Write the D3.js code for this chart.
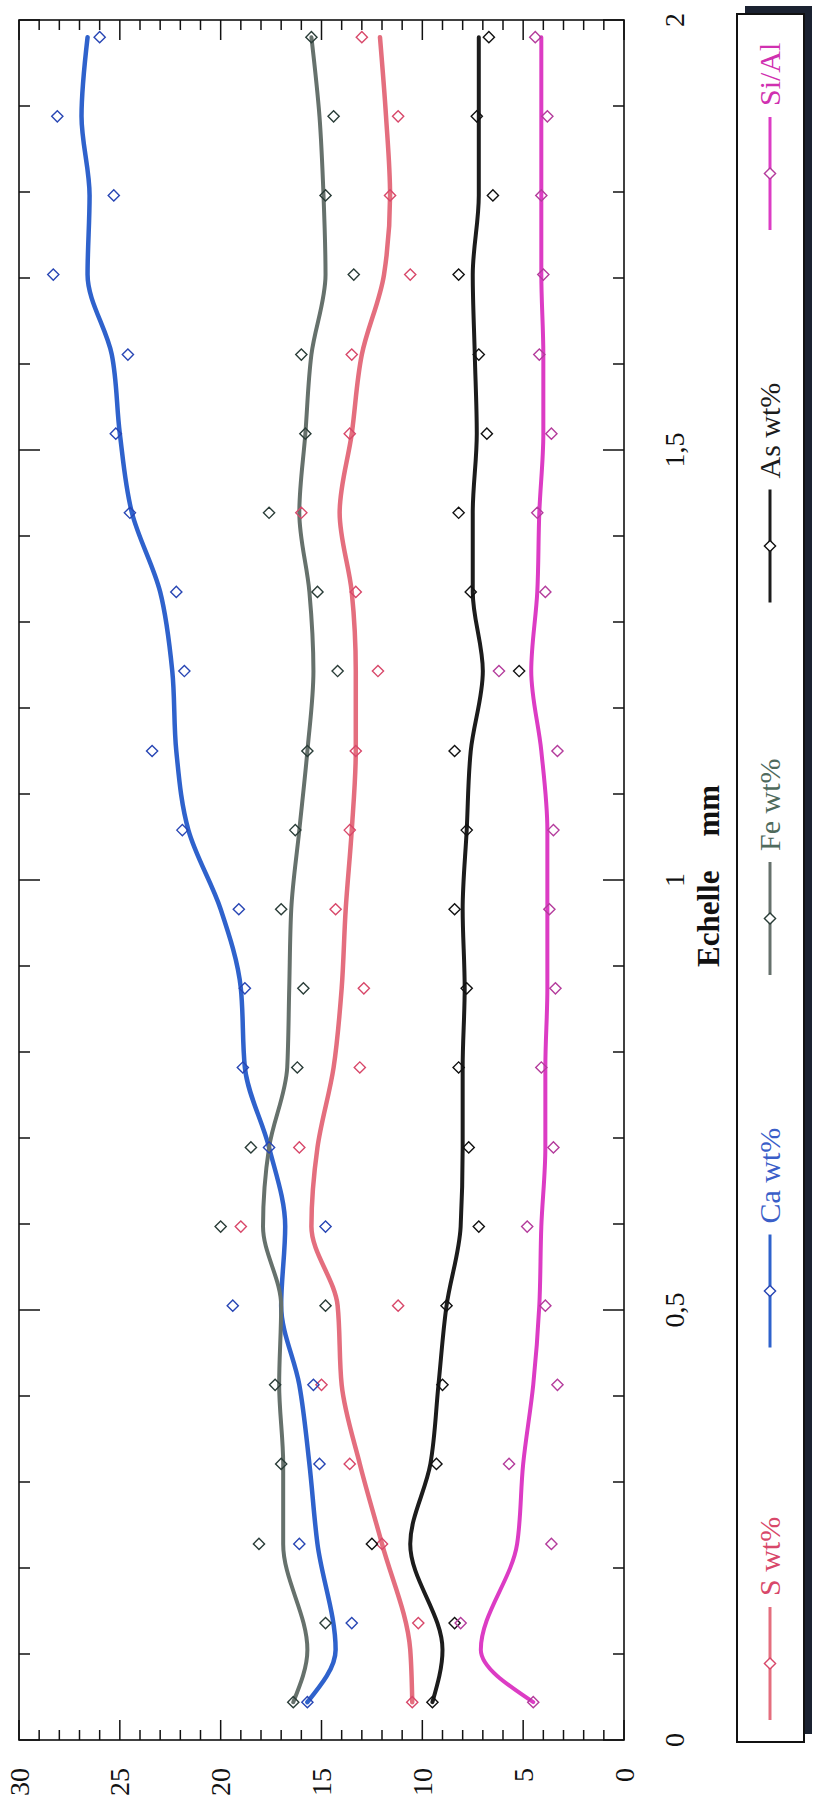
<!DOCTYPE html>
<html><head><meta charset="utf-8">
<script src="https://cdn.jsdelivr.net/npm/d3@7"></script>
<style>body{margin:0;background:#fff}svg{display:block}</style>
</head><body>
<svg id="c" width="821" height="1814"></svg>
<script>
// ---- data ----
const seriesNames = ["S wt%", "Ca wt%", "Fe wt%", "As wt%", "Si/Al"];
const pointMm = [0.044,0.136,0.228,0.321,0.413,0.505,0.597,0.689,0.782,0.874,0.966,1.058,1.150,1.243,1.335,1.427,1.519,1.611,1.704,1.796,1.888,1.980];
const lineMm  = [0.044,0.105,0.228,0.321,0.413,0.505,0.597,0.689,0.782,0.874,0.966,1.058,1.150,1.243,1.335,1.427,1.519,1.611,1.704,1.796,1.888,1.980];

const sPoints  = [10.5,10.2,12.0,13.6,15.0,11.2,19.0,16.1,13.1,12.9,14.3,13.6,13.3,12.2,13.3,16.0,13.6,13.5,10.6,11.6,11.2,13.0];
const caPoints = [15.7,13.5,16.1,15.1,15.4,19.4,14.8,17.6,18.9,18.8,19.1,21.9,23.4,21.8,22.2,24.5,25.2,24.6,28.3,25.3,28.1,26.0];
const fePoints = [16.4,14.8,18.1,17.0,17.3,14.8,20.0,18.5,16.2,15.9,17.0,16.3,15.7,14.2,15.2,17.6,15.8,16.0,13.4,14.8,14.4,15.5];
const asPoints = [9.5,8.4,12.5,9.3,9.0,8.8,7.2,7.7,8.2,7.8,8.4,7.8,8.4,5.2,7.6,8.2,6.8,7.2,8.2,6.5,7.3,6.7];
const siPoints = [4.5,8.1,3.6,5.7,3.3,3.9,4.8,3.5,4.1,3.4,3.7,3.5,3.3,6.2,3.9,4.3,3.6,4.2,4.0,4.1,3.8,4.4];

const sLine  = [10.5,10.6,12.0,13.1,14.0,14.2,15.5,15.2,14.4,14.0,13.8,13.5,13.3,13.3,13.5,14.1,13.5,13.0,11.9,11.6,11.8,12.1];
const caLine = [15.7,14.3,15.2,15.6,16.1,17.0,16.8,17.6,18.8,19.0,20.0,21.6,22.2,22.4,23.0,24.4,25.0,25.4,26.6,26.5,26.9,26.6];
const feLine = [16.4,15.7,16.9,16.9,17.1,17.0,17.9,17.6,16.7,16.6,16.5,16.1,15.7,15.4,15.6,16.1,15.8,15.5,14.8,14.9,15.1,15.5];
const asLine = [9.5,9.0,10.6,9.6,9.2,8.8,8.1,8.0,8.0,7.9,8.0,7.8,7.6,7.0,7.5,7.5,7.3,7.4,7.5,7.2,7.2,7.2];
const siLine = [4.5,7.1,5.3,5.0,4.5,4.2,4.1,3.9,3.9,3.8,3.8,3.8,4.1,4.6,4.3,4.2,4.0,4.0,4.1,4.1,4.1,4.1];

const valueTicks = [0,5,10,15,20,25,30];
const mmTicks = [0,0.5,1,1.5,2];
const mmTickLabels = ["0","0,5","1","1,5","2"];
const axisTitle = ["Echelle", "mm"];

// ---- styles ----
const lineColors   = ["#e46e7e","#2f62cc","#66716c","#1c1c1c","#dc3cc4"];
const markerColors = ["#d8486a","#2846b4","#2a3d38","#111111","#b43c9c"];
const textColors   = ["#d8486a","#3a5ec8","#4f6a5c","#1c1c1c","#d030b0"];
const lineWidths   = [4.5,4.5,4,4,4];

const pointSets = [sPoints, caPoints, fePoints, asPoints, siPoints];
const lineSets  = [sLine, caLine, feLine, asLine, siLine];

const FONT = "'Liberation Serif','Times New Roman',serif";
const svg = d3.select("#c");
// landscape drawing rotated -90deg
const g = svg.append("g").attr("transform","translate(0,1814) rotate(-90)");

const x = d3.scaleLinear().domain([0,2]).range([74,1794]);
const y = d3.scaleLinear().domain([0,30]).range([624,19]);

// frame
g.append("rect").attr("x",x(0)).attr("y",y(30)).attr("width",x(2)-x(0)).attr("height",y(0)-y(30))
 .attr("fill","none").attr("stroke","#111").attr("stroke-width",1.6);

// ticks
const minorMm = d3.range(0,21).map(i=>i/10);
minorMm.forEach(v=>{
  const major = Math.abs(v*2-Math.round(v*2))<1e-6;
  const len = major?21:11;
  g.append("line").attr("x1",x(v)).attr("x2",x(v)).attr("y1",y(0)).attr("y2",y(0)-len).attr("stroke","#111").attr("stroke-width",1.5);
  g.append("line").attr("x1",x(v)).attr("x2",x(v)).attr("y1",y(30)).attr("y2",y(30)+len).attr("stroke","#111").attr("stroke-width",1.5);
});
d3.range(0,31).forEach(v=>{
  const len = v%5===0?20:10;
  g.append("line").attr("x1",x(0)).attr("x2",x(0)+len).attr("y1",y(v)).attr("y2",y(v)).attr("stroke","#111").attr("stroke-width",1.5);
  g.append("line").attr("x1",x(2)).attr("x2",x(2)-len).attr("y1",y(v)).attr("y2",y(v)).attr("stroke","#111").attr("stroke-width",1.5);
});

// tick labels
g.selectAll(".vl").data(valueTicks).enter().append("text")
 .attr("x",46).attr("y",d=>y(d)).attr("text-anchor","end").attr("dominant-baseline","central")
 .attr("font-family",FONT).attr("font-size",28).attr("fill","#111").text(d=>d);
g.selectAll(".ml").data(mmTicks).enter().append("text")
 .attr("x",d=>x(d)).attr("y",684).attr("text-anchor","middle")
 .attr("font-family",FONT).attr("font-size",28).attr("fill","#111").text((d,i)=>mmTickLabels[i]);

// axis title
const t = g.append("text").attr("x",847).attr("y",719).attr("font-family",FONT).attr("font-size",31)
 .attr("font-weight","bold").attr("fill","#111");
t.append("tspan").text(axisTitle[0]);
t.append("tspan").attr("dx",34).text(axisTitle[1]);

// series
const diamond = r => `M0,${-r}L${r},0L0,${r}L${-r},0Z`;
const lineGen = d3.line().x(d=>x(d[0])).y(d=>y(d[1])).curve(d3.curveMonotoneX);
pointSets.forEach((pts,si)=>{
  const ld = lineSets[si].map((v,i)=>[lineMm[i],v]);
  g.append("path").attr("d",lineGen(ld)).attr("fill","none").attr("stroke",lineColors[si])
   .attr("stroke-width",lineWidths[si]).attr("stroke-linejoin","round").attr("stroke-linecap","round");
});
pointSets.forEach((pts,si)=>{
  g.selectAll(null).data(pts).enter().append("path")
   .attr("transform",(d,i)=>`translate(${x(pointMm[i])},${y(d)})`)
   .attr("d",diamond(5.6)).attr("fill","none").attr("stroke",markerColors[si]).attr("stroke-width",1.4);
});

// legend
g.append("rect").attr("x",80).attr("y",745).attr("width",1728).attr("height",67).attr("fill","#1b2231");
g.append("rect").attr("x",72).attr("y",737).attr("width",1728).attr("height",67).attr("fill","#fff")
 .attr("stroke","#111").attr("stroke-width",2);
seriesNames.forEach((name,i)=>{
  const lx = 94 + i*372.5;
  g.append("line").attr("x1",lx).attr("x2",lx+113).attr("y1",770).attr("y2",770)
   .attr("stroke",lineColors[i]).attr("stroke-width",3);
  g.append("path").attr("transform",`translate(${lx+56.5},770)`).attr("d",diamond(5.6))
   .attr("fill","#fff").attr("stroke",markerColors[i]).attr("stroke-width",1.4);
  g.append("text").attr("x",lx+124).attr("y",780).attr("font-family",FONT).attr("font-size",30)
   .attr("fill",textColors[i]).text(name);
});
</script>
</body></html>
